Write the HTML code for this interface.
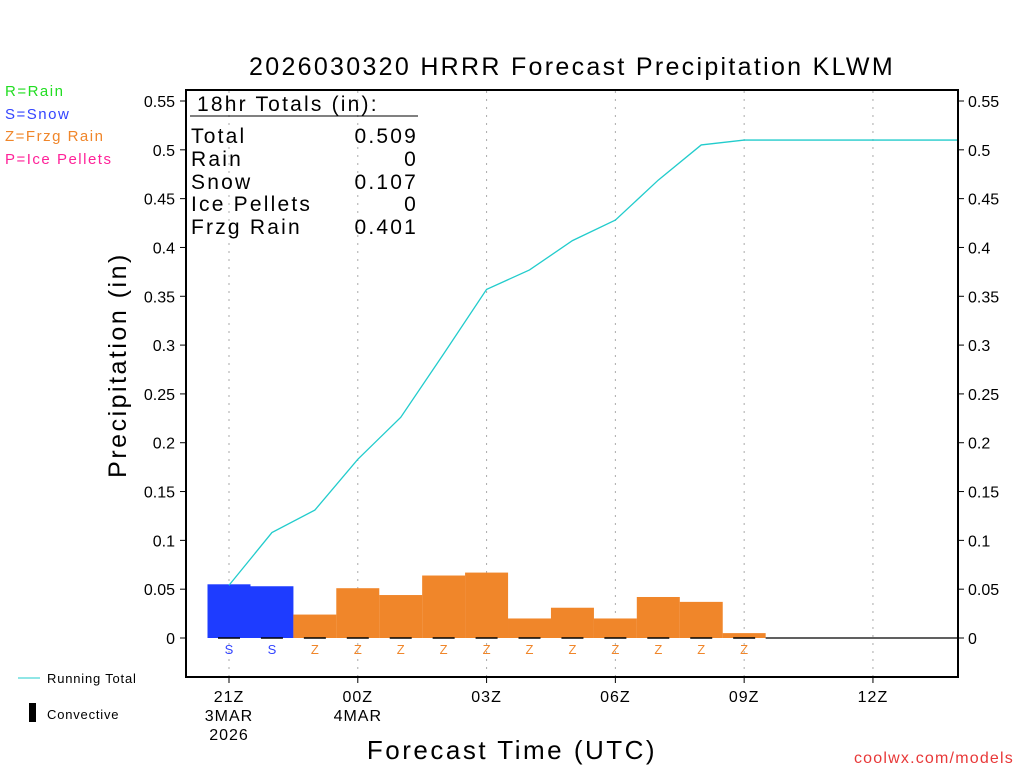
<!DOCTYPE html>
<html><head><meta charset="utf-8"><style>
body{margin:0;background:#fff;}
svg text{font-family:"Liberation Sans",sans-serif;}
</style></head><body>
<svg width="1024" height="768" xmlns="http://www.w3.org/2000/svg">
<text x="572" y="75" font-size="25" text-anchor="middle" letter-spacing="2.3">2026030320 HRRR Forecast Precipitation KLWM</text>
<text x="5" y="96" font-size="15" fill="#22dd22" letter-spacing="1.5">R=Rain</text>
<text x="5" y="119" font-size="15" fill="#3344ff" letter-spacing="1.5">S=Snow</text>
<text x="5" y="141" font-size="15" fill="#f0862a" letter-spacing="1.5">Z=Frzg Rain</text>
<text x="5" y="164" font-size="15" fill="#ff2299" letter-spacing="1.5">P=Ice Pellets</text>
<line x1="18" y1="678" x2="40" y2="678" stroke="#22cccc"/>
<text x="47" y="683" font-size="13" letter-spacing="0.8">Running Total</text>
<rect x="29" y="703" width="7" height="19" fill="#000"/>
<text x="47" y="719" font-size="13" letter-spacing="0.8">Convective</text>
<text x="126" y="365" font-size="25" text-anchor="middle" transform="rotate(-90 126 365)" letter-spacing="2.5">Precipitation (in)</text>
<text x="512" y="759" font-size="26" text-anchor="middle" letter-spacing="2.5">Forecast Time (UTC)</text>
<text x="1014" y="763" font-size="16" fill="#e83838" text-anchor="end" letter-spacing="1.2">coolwx.com/models</text>
<g id="grid"></g><g id="bars"></g><g id="marks"></g>
<path id="total-line" fill="none" stroke="#22cccc" stroke-width="1.3"/>
<rect x="186" y="90" width="772" height="587" fill="none" stroke="#000" stroke-width="2"/>
<g id="axes"></g>
<g font-size="21" letter-spacing="2.2">
<text x="197" y="111">18hr Totals (in):</text>
<line x1="190" y1="116" x2="418" y2="116" stroke="#000"/>
<text x="191" y="143">Total</text><text x="418" y="143" text-anchor="end">0.509</text>
<text x="191" y="166">Rain</text><text x="418" y="166" text-anchor="end">0</text>
<text x="191" y="189">Snow</text><text x="418" y="189" text-anchor="end">0.107</text>
<text x="191" y="211">Ice Pellets</text><text x="418" y="211" text-anchor="end">0</text>
<text x="191" y="234">Frzg Rain</text><text x="418" y="234" text-anchor="end">0.401</text>
</g>
</svg>
<script>
const hours=[21,22,23,24,25,26,27,28,29,30,31,32,33,34,35,36,37,38];
const hourlyPrecip=[0.055,0.053,0.024,0.051,0.044,0.064,0.067,0.020,0.031,0.020,0.042,0.037,0.005,0,0,0,0,0];
const precipType=["S","S","Z","Z","Z","Z","Z","Z","Z","Z","Z","Z","Z","","","","",""];
const runningTotal=[0.054,0.108,0.131,0.183,0.226,0.291,0.357,0.377,0.407,0.428,0.469,0.505,0.510,0.510,0.510,0.510,0.510,0.510];
const yTicks=[0,0.05,0.1,0.15,0.2,0.25,0.3,0.35,0.4,0.45,0.5,0.55];
const yTickLabels=["0","0.05","0.1","0.15","0.2","0.25","0.3","0.35","0.4","0.45","0.5","0.55"];
const xTickHours=[21,24,27,30,33,36];
const xTickLabels=[["21Z","3MAR","2026"],["00Z","4MAR"],["03Z"],["06Z"],["09Z"],["12Z"]];
const NS="http://www.w3.org/2000/svg";
const x=h=>229+(h-21)*42.93;
const y=v=>638-v*(537/0.55);
function mk(t,a,p){const e=document.createElementNS(NS,t);for(const k in a)e.setAttribute(k,a[k]);document.getElementById(p).appendChild(e);return e;}
xTickHours.forEach((h,i)=>{
 const g=mk('line',{x1:x(h),y1:91,x2:x(h),y2:676,stroke:'#aaa','stroke-dasharray':'2,6'},'grid');
 
 
 mk('line',{x1:x(h),y1:677,x2:x(h),y2:683,stroke:'#000'},'axes');
 xTickLabels[i].forEach((s,j)=>{const t=mk('text',{x:x(h),y:702+j*19,'font-size':16,'text-anchor':'middle','letter-spacing':1},'axes');t.textContent=s;
 
 });
});
yTicks.forEach((v,i)=>{
 mk('line',{x1:180,y1:y(v),x2:186,y2:y(v),stroke:'#000'},'axes');
 mk('line',{x1:958,y1:y(v),x2:964,y2:y(v),stroke:'#000'},'axes');
 const l=mk('text',{x:175,y:y(v)+6,'font-size':16,'text-anchor':'end'},'axes');l.textContent=yTickLabels[i];
 
 
 const r=mk('text',{x:968,y:y(v)+6,'font-size':16},'axes');r.textContent=yTickLabels[i];
 
 
});
let lastWet=21;
hours.forEach((h,i)=>{
 const v=hourlyPrecip[i],tp=precipType[i];
 if(v>0){lastWet=h;const c=tp==='S'?'#1e3cff':'#f0862a';
  const b=mk('rect',{x:x(h)-21.5,y:y(v),width:43,height:y(0)-y(v),fill:c},'bars');
  
  
  mk('line',{x1:x(h)-11,y1:638,x2:x(h)+11,y2:638,stroke:'#000','stroke-width':1.5},'marks');}
 if(tp){const t=mk('text',{x:x(h),y:654,'font-size':13,'text-anchor':'middle',fill:tp==='S'?'#3344ff':'#f0862a'},'marks');t.textContent=tp;
  
  }
});
const base=mk('line',{x1:x(lastWet)+21.5,y1:638,x2:958,y2:638,stroke:'#000','stroke-width':1.3},'marks');


let d=runningTotal.map((v,i)=>(i?'L':'M')+Math.min(958,x(hours[i]))+','+y(v)).join(' ');
document.getElementById('total-line').setAttribute('d',d);
</script>
</body></html>
